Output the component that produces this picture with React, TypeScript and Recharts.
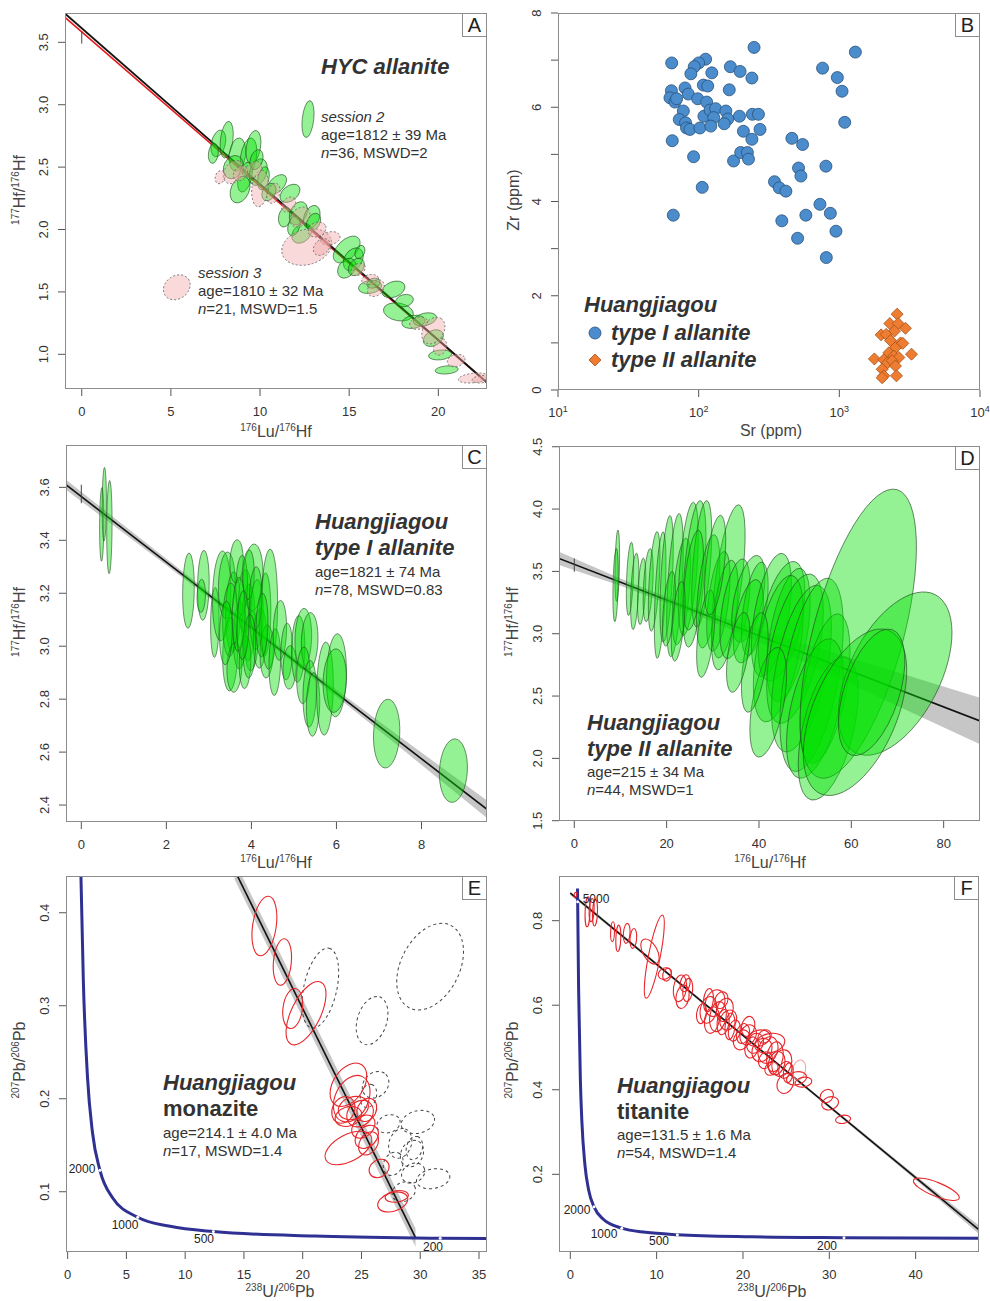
import React from 'react';
import { Area, ComposedChart, Line, Scatter, XAxis, YAxis } from 'recharts';

// ellipse rows: [x, y, half-width x, half-height y, correlation]
type Ell = [number, number, number, number, number];
type Pt = [number, number];
type Band = [number, number, number];

// ---------- panel A: HYC allanite ----------
const session2: Ell[] = [
  [7.66, 2.69, 0.42, 0.107, 0.3], [8.13, 2.72, 0.37, 0.147, 0.3], [8.73, 2.6, 0.47, 0.134, 0.2],
  [9.35, 2.58, 0.47, 0.154, 0.3], [9.63, 2.66, 0.42, 0.134, 0.3], [8.5, 2.5, 0.56, 0.093, 0.2],
  [9.16, 2.42, 0.42, 0.12, 0.4], [9.9, 2.46, 0.51, 0.107, 0.3], [8.88, 2.32, 0.56, 0.107, 0.3],
  [10.93, 2.36, 0.56, 0.08, 0.5], [11.68, 2.29, 0.56, 0.073, 0.4], [11.4, 2.1, 0.37, 0.08, 0.2],
  [12.15, 2.13, 0.51, 0.093, 0.3], [12.9, 2.1, 0.47, 0.093, 0.3], [12.34, 1.97, 0.56, 0.08, 0.3],
  [14.86, 1.84, 0.75, 0.107, 0.5], [15.23, 1.76, 0.56, 0.093, 0.3], [14.86, 1.69, 0.51, 0.08, 0.3],
  [16.17, 1.54, 0.65, 0.053, 0.2], [17.48, 1.52, 0.65, 0.067, 0.3], [17.76, 1.34, 0.84, 0.073, -0.2],
  [18.6, 1.26, 0.65, 0.053, 0.2], [19.25, 1.28, 0.65, 0.053, 0.3], [19.72, 1.13, 0.56, 0.067, 0.3],
  [20.1, 0.995, 0.65, 0.04, 0.2], [20.47, 0.875, 0.65, 0.033, 0.2], [9.8, 2.56, 0.37, 0.08, 0.3],
  [10.19, 2.41, 0.33, 0.093, 0.3], [7.38, 2.61, 0.28, 0.08, 0.2], [15.6, 1.82, 0.28, 0.053, 0.3],
  [16.36, 1.57, 0.37, 0.04, 0.2], [13.0, 2.06, 0.4, 0.07, 0.3], [15.4, 1.7, 0.45, 0.07, 0.3],
  [18.1, 1.43, 0.5, 0.05, 0.2], [10.5, 2.3, 0.4, 0.07, 0.3], [11.9, 2.03, 0.35, 0.08, 0.3],
];
const session3: Ell[] = [
  [12.62, 1.86, 1.4, 0.147, 0.2], [13.93, 1.93, 0.56, 0.053, 0.2], [13.46, 1.86, 0.47, 0.067, 0.3],
  [12.24, 2.1, 0.56, 0.08, 0.3], [10.0, 2.33, 0.47, 0.147, 0.2], [8.5, 2.46, 0.56, 0.093, 0.3],
  [7.76, 2.42, 0.28, 0.053, 0.2], [16.17, 1.6, 0.47, 0.04, 0.2], [16.5, 1.53, 0.47, 0.067, 0.3],
  [19.72, 1.19, 0.65, 0.107, 0.3], [20.1, 1.06, 0.37, 0.067, 0.2], [21.96, 0.81, 0.84, 0.04, 0.3],
  [22.4, 0.8, 0.5, 0.03, 0.2], [9.63, 2.48, 0.47, 0.067, 0.3], [10.75, 2.29, 0.37, 0.08, 0.3],
  [13.2, 2.0, 0.5, 0.06, 0.2], [11.6, 2.2, 0.4, 0.06, 0.3], [15.5, 1.68, 0.4, 0.05, 0.3],
  [18.9, 1.25, 0.5, 0.05, 0.2], [21.0, 0.95, 0.5, 0.05, 0.2], [8.9, 2.45, 0.4, 0.06, 0.3],
];
const keyS2: Ell[] = [[12.69, 2.885, 0.34, 0.148, 0.3]];
const keyS3: Ell[] = [[5.33, 1.537, 0.75, 0.1, 0.2]];
const isoA: Pt[] = [[-0.94, 3.73], [22.73, 0.774]];
const isoA3: Pt[] = [[-0.94, 3.7], [22.73, 0.772]];
const bandA: Band[] = [[-0.94, 3.716, 3.744], [11, 2.233, 2.245], [22.73, 0.762, 0.786]];
const barA: Pt[] = [[0, 3.49], [0, 3.585]];

// ---------- panel B: Sr vs Zr ----------
const typeI: Pt[] = [
  [64.3, 6.94], [247.6, 7.27], [1300, 7.17], [112, 7.02], [100, 6.94], [93, 6.86], [88, 6.71], [124, 6.73],
  [168, 6.86], [197, 6.76], [239, 6.62], [760, 6.83], [968, 6.63], [1045, 6.34], [1092, 5.68], [64, 6.35],
  [62.5, 6.2], [67.8, 6.11], [69.7, 6.18], [80, 6.41], [84.4, 6.28], [108, 6.47], [116, 6.45], [165, 6.37],
  [98.4, 6.18], [114, 6.11], [77.8, 5.92], [72.8, 5.74], [80.7, 5.67], [82, 5.56], [86.7, 5.53], [102, 5.56],
  [109, 5.81], [120.5, 5.94], [132, 5.97], [128, 5.78], [122, 5.6], [156, 5.92], [161, 5.75], [152, 5.65],
  [195, 5.81], [241, 5.85], [266, 5.85], [273, 5.53], [208, 5.49], [239, 5.32], [64.9, 5.29], [92, 4.95],
  [177, 4.86], [199, 5.04], [222, 5.04], [226, 4.9], [106, 4.3], [66, 3.71], [460, 5.34], [548, 5.21],
  [513, 4.71], [533, 4.54], [803, 4.75], [346, 4.42], [374, 4.29], [417, 4.22], [390, 3.59], [578, 3.71],
  [728, 3.94], [863, 3.75], [946, 3.37], [505, 3.22], [808, 2.81],
];
const typeII: Pt[] = [
  [2576, 1.61], [2285, 1.41], [2618, 1.41], [2951, 1.31], [2466, 1.25], [1982, 1.17], [2153, 1.18],
  [2309, 1.05], [2722, 1.0], [2506, 0.9], [3258, 0.76], [2250, 0.79], [2440, 0.72], [2649, 0.69],
  [1775, 0.66], [2070, 0.64], [2188, 0.57], [2373, 0.62], [2015, 0.44], [2506, 0.51], [2070, 0.3],
  [2015, 0.26], [2548, 0.3], [2828, 0.99],
];

// ---------- panel C: type I allanite ----------
const allaniteI: Ell[] = [
  [0.48, 3.46, 0.05, 0.139, 0.1], [0.54, 3.536, 0.05, 0.139, 0.1], [0.66, 3.45, 0.063, 0.176, 0.1],
  [2.52, 3.21, 0.137, 0.142, 0.1], [2.87, 3.23, 0.137, 0.132, 0.1], [2.82, 3.19, 0.1, 0.063, 0.1],
  [3.14, 3.09, 0.1, 0.132, 0.1], [3.3, 3.19, 0.216, 0.17, 0.1], [3.42, 3.23, 0.196, 0.126, 0.1],
  [3.57, 3.13, 0.176, 0.151, 0.1], [3.5, 2.97, 0.176, 0.139, 0.1], [3.65, 3.32, 0.157, 0.082, 0.1],
  [3.73, 3.04, 0.157, 0.126, 0.1], [3.85, 3.17, 0.157, 0.12, 0.1], [3.93, 3.09, 0.157, 0.145, 0.1],
  [4.04, 3.26, 0.235, 0.126, 0.1], [4.0, 3.02, 0.157, 0.113, 0.1], [4.12, 3.12, 0.157, 0.132, 0.1],
  [4.2, 3.03, 0.157, 0.113, 0.1], [4.32, 3.12, 0.137, 0.157, 0.1], [4.36, 2.98, 0.157, 0.1, 0.1],
  [4.42, 3.14, 0.196, 0.227, 0.1], [4.55, 2.94, 0.137, 0.126, 0.1], [4.67, 3.06, 0.157, 0.113, 0.1],
  [4.83, 2.98, 0.137, 0.107, 0.1], [4.9, 2.92, 0.157, 0.082, 0.1], [5.1, 2.99, 0.157, 0.126, 0.1],
  [5.22, 3.03, 0.196, 0.113, 0.1], [5.37, 3.02, 0.196, 0.107, 0.1], [5.22, 2.89, 0.157, 0.107, 0.1],
  [5.37, 2.82, 0.157, 0.126, 0.1], [5.45, 2.78, 0.157, 0.12, 0.1], [5.73, 2.84, 0.196, 0.176, 0.1],
  [6.0, 2.89, 0.235, 0.157, 0.1], [5.96, 2.87, 0.275, 0.12, 0.1], [7.18, 2.67, 0.31, 0.13, 0.1],
  [8.75, 2.53, 0.33, 0.12, 0.1], [3.77, 3.23, 0.137, 0.113, 0.1], [3.93, 3.27, 0.137, 0.094, 0.1],
  [3.5, 3.1, 0.176, 0.139, 0.1], [3.6, 2.92, 0.176, 0.094, 0.1], [3.85, 2.94, 0.137, 0.1, 0.1],
  [3.7, 3.12, 0.15, 0.14, 0.1], [4.1, 3.18, 0.15, 0.12, 0.1], [3.95, 3.0, 0.15, 0.12, 0.1],
  [4.25, 3.08, 0.14, 0.12, 0.1], [3.4, 3.05, 0.15, 0.12, 0.1], [3.8, 3.08, 0.14, 0.13, 0.1],
];
const isoC: Pt[] = [[-0.37, 3.611], [9.54, 2.384]];
const bandC: Band[] = [
  [-0.37, 3.592, 3.63], [2, 3.306, 3.33], [4, 3.06, 3.08], [6, 2.81, 2.836], [7.5, 2.617, 2.657], [9.54, 2.351, 2.417],
];
const barC: Pt[] = [[0, 3.54], [0, 3.61]];

// ---------- panel D: type II allanite ----------
const allaniteII: Ell[] = [
  [9.31, 3.545, 0.5, 0.287, 0.3], [8.95, 3.39, 0.58, 0.294, 0.3], [12.06, 3.44, 0.79, 0.294, 0.4],
  [13.1, 3.34, 0.9, 0.307, 0.4], [14.6, 3.34, 0.9, 0.267, 0.4], [16.0, 3.39, 1.08, 0.294, 0.4],
  [17.3, 3.42, 1.26, 0.4, 0.5], [18.6, 3.31, 1.26, 0.508, 0.5], [20.0, 3.44, 1.44, 0.508, 0.5],
  [21.8, 3.39, 1.8, 0.575, 0.5], [23.2, 3.34, 1.99, 0.428, 0.5], [24.7, 3.52, 2.17, 0.535, 0.5],
  [26.0, 3.48, 2.53, 0.588, 0.5], [27.6, 3.56, 2.17, 0.508, 0.5], [25.8, 3.43, 2.17, 0.4, 0.5],
  [29.0, 3.34, 2.53, 0.455, 0.5], [33.4, 3.42, 3.6, 0.615, 0.6], [31.2, 3.26, 2.53, 0.4, 0.5],
  [32.6, 3.15, 2.89, 0.44, 0.5], [34.8, 3.2, 3.25, 0.4, 0.5], [37.7, 3.28, 3.6, 0.348, 0.5],
  [39.1, 3.2, 2.89, 0.374, 0.5], [37.7, 3.1, 3.25, 0.334, 0.5], [42.7, 3.15, 4.33, 0.495, 0.5],
  [44.9, 3.1, 5.05, 0.48, 0.5], [46.4, 2.99, 4.69, 0.535, 0.5], [44.2, 2.88, 5.42, 0.588, 0.5],
  [47.8, 2.88, 6.14, 0.6, 0.5], [49.2, 2.72, 6.5, 0.668, 0.5], [51.4, 2.67, 6.86, 0.775, 0.5],
  [54.3, 2.56, 5.42, 0.6, 0.5], [52.1, 2.4, 6.14, 0.56, 0.5], [55.0, 2.24, 6.5, 0.575, 0.5],
  [61.5, 3.0, 12.6, 1.16, 0.6], [69.5, 2.68, 12.3, 0.655, 0.5], [60.8, 2.37, 11.2, 0.668, 0.5],
  [64.4, 2.53, 7.2, 0.508, 0.5], [42.0, 2.45, 3.97, 0.44, 0.5], [39.1, 2.77, 2.89, 0.4, 0.5],
  [35.5, 2.85, 2.53, 0.32, 0.5], [20.5, 3.2, 1.4, 0.3, 0.5], [22.5, 3.1, 1.5, 0.32, 0.5],
  [28.5, 3.0, 2.0, 0.35, 0.5], [30.5, 3.55, 2.3, 0.4, 0.5],
];
const isoD: Pt[] = [[-3.32, 3.604], [87.87, 2.3]];
const bandD: Band[] = [
  [-3.32, 3.551, 3.657], [10, 3.384, 3.444], [25, 3.177, 3.221], [45, 2.853, 2.973], [65, 2.507, 2.747], [87.87, 2.113, 2.487],
];
const barD: Pt[] = [[0, 3.497], [0, 3.604]];

// ---------- panel E: monazite ----------
const monazite: Ell[] = [
  [16.74, 0.3857, 1.06, 0.032, 0.3], [18.27, 0.347, 0.78, 0.025, 0.2], [19.15, 0.297, 0.85, 0.0215, 0.2],
  [20.28, 0.292, 1.7, 0.034, 0.6], [23.89, 0.215, 1.56, 0.0233, 0.4], [24.17, 0.2, 1.56, 0.025, 0.3],
  [23.46, 0.188, 0.99, 0.0143, 0.2], [24.31, 0.19, 1.28, 0.0125, 0.2], [24.88, 0.184, 1.13, 0.0143, 0.2],
  [25.45, 0.188, 0.85, 0.0125, 0.2], [23.89, 0.181, 1.13, 0.0108, 0.2], [25.16, 0.17, 0.99, 0.0125, 0.3],
  [23.89, 0.147, 1.99, 0.018, 0.5], [25.45, 0.159, 0.99, 0.0125, 0.3], [25.6, 0.152, 0.85, 0.0125, 0.3],
  [26.5, 0.125, 0.85, 0.0099, 0.2], [27.66, 0.089, 1.28, 0.0108, 0.3], [28.0, 0.095, 0.99, 0.0063, 0.2],
];
const monaziteOut: Ell[] = [
  [30.84, 0.342, 2.84, 0.0466, 0.35], [21.5, 0.319, 1.56, 0.043, 0.4], [25.9, 0.284, 1.35, 0.026, 0.3],
  [26.2, 0.215, 1.13, 0.0143, 0.2], [29.8, 0.175, 1.42, 0.0125, 0.2], [27.3, 0.173, 0.99, 0.0099, 0.2],
  [28.3, 0.152, 0.99, 0.016, 0.2], [29.3, 0.141, 0.99, 0.0143, 0.2], [27.7, 0.13, 0.85, 0.0125, 0.2],
  [31.1, 0.114, 1.42, 0.0108, 0.2], [29.4, 0.12, 0.99, 0.0108, 0.2], [28.6, 0.1, 0.99, 0.0108, 0.2],
  [25.6, 0.203, 0.7, 0.0125, 0.2], [29.5, 0.147, 0.7, 0.0125, 0.2],
];
const isoE: Pt[] = [[14.2, 0.4459], [29.6, 0.0506]];
const bandE: Band[] = [[14.2, 0.4361, 0.4557], [22, 0.2359, 0.2555], [29.6, 0.0408, 0.0604]];
const concordiaE: Pt[] = [
  [1.13, 0.44], [1.337, 0.326], [1.69, 0.223], [2.11, 0.164], [2.75, 0.123], [3.82, 0.0936],
  [5.96, 0.0725], [8.72, 0.0628], [12.4, 0.0572], [21.0, 0.0523], [31.7, 0.0501], [35.7, 0.0496],
];
const agesE: Pt[] = [[2.75, 0.123], [5.96, 0.0725], [12.4, 0.0572], [31.7, 0.0501]];

// ---------- panel F: titanite ----------
const titanite: Ell[] = [
  [0.6, 0.861, 0.15, 0.006, 0.2], [2.0, 0.821, 0.29, 0.0355, 0.2], [2.47, 0.825, 0.29, 0.0276, 0.2],
  [2.86, 0.819, 0.29, 0.0315, 0.2], [4.9, 0.774, 0.23, 0.0236, 0.2], [5.56, 0.758, 0.29, 0.0315, 0.2],
  [6.53, 0.77, 0.39, 0.0236, 0.2], [7.3, 0.758, 0.39, 0.0236, 0.2], [9.23, 0.727, 1.06, 0.0296, -0.5],
  [9.73, 0.715, 1.16, 0.0985, 0.8], [10.96, 0.675, 0.77, 0.0138, 0.2], [12.7, 0.64, 0.77, 0.0315, 0.2],
  [13.6, 0.636, 0.58, 0.0276, 0.2], [13.0, 0.62, 0.77, 0.0276, 0.2], [13.3, 0.652, 0.58, 0.02, 0.2],
  [16.0, 0.589, 0.97, 0.0315, 0.2], [16.76, 0.605, 1.16, 0.0315, 0.2], [17.1, 0.573, 0.97, 0.0355, 0.2],
  [17.9, 0.589, 0.97, 0.0276, 0.2], [18.3, 0.565, 0.97, 0.0236, 0.2], [16.4, 0.565, 0.87, 0.0315, 0.2],
  [17.5, 0.612, 0.77, 0.0197, 0.2], [18.5, 0.55, 0.58, 0.0315, 0.2], [19.85, 0.518, 0.97, 0.0236, 0.2],
  [20.0, 0.533, 0.77, 0.0236, 0.2], [20.6, 0.53, 0.97, 0.0236, 0.2], [21.4, 0.51, 0.97, 0.0236, 0.2],
  [21.8, 0.522, 1.35, 0.0197, 0.2], [22.2, 0.494, 1.16, 0.0276, 0.2], [22.9, 0.494, 1.16, 0.0315, 0.2],
  [23.1, 0.51, 1.74, 0.0236, 0.2], [23.7, 0.478, 0.97, 0.0355, 0.2], [22.5, 0.526, 0.77, 0.0158, 0.2],
  [23.9, 0.463, 0.97, 0.0276, 0.2], [24.5, 0.463, 1.16, 0.0315, 0.2], [23.3, 0.45, 0.77, 0.0158, 0.2],
  [24.9, 0.447, 0.77, 0.0197, 0.2], [25.25, 0.44, 0.58, 0.0236, 0.2], [24.9, 0.415, 0.97, 0.0236, 0.2],
  [26.2, 0.427, 1.16, 0.0158, 0.2], [27.0, 0.418, 0.97, 0.0118, 0.2], [29.7, 0.385, 0.77, 0.0158, 0.2],
  [30.1, 0.368, 0.97, 0.0158, 0.2], [31.6, 0.33, 0.87, 0.0099, 0.2], [42.4, 0.1646, 2.66, 0.0264, -0.75],
  [20.6, 0.55, 0.77, 0.0236, 0.2], [15.2, 0.58, 0.58, 0.0236, 0.2], [16.0, 0.612, 0.58, 0.0276, 0.2],
  [19.0, 0.54, 0.7, 0.025, 0.2], [21.0, 0.5, 0.8, 0.025, 0.2], [22.6, 0.47, 0.8, 0.02, 0.2],
  [17.7, 0.56, 0.7, 0.03, 0.2], [11.2, 0.672, 0.5, 0.015, 0.2],
];
const titanitePale: Ell[] = [[26.5, 0.447, 0.77, 0.0236, 0.2]];
const isoF: Pt[] = [[0, 0.865], [47.34, 0.0687]];
const bandF: Band[] = [[0, 0.861, 0.869], [25, 0.4415, 0.4475], [40, 0.1872, 0.1972], [47.34, 0.0587, 0.0787]];
const concordiaF: Pt[] = [
  [0.835, 0.876], [0.96, 0.64], [1.163, 0.425], [1.337, 0.326], [1.69, 0.223], [2.11, 0.164], [2.75, 0.123],
  [3.82, 0.0936], [5.96, 0.0725], [8.72, 0.0628], [12.4, 0.0572], [21.0, 0.0523], [31.7, 0.0501], [47.4, 0.0487],
];
const agesF: Pt[] = [[0.853, 0.845], [2.75, 0.123], [5.96, 0.0725], [12.4, 0.0572], [31.7, 0.0501]];

// ---------- axes ----------
const ticksAx = [0, 5, 10, 15, 20];
const ticksAy = [1, 1.5, 2, 2.5, 3, 3.5];
const ticksBx = [10, 100, 1000, 10000];
const ticksBy = [0, 1, 2, 3, 4, 5, 6, 7, 8];
const ticksCx = [0, 2, 4, 6, 8];
const ticksCy = [2.4, 2.6, 2.8, 3.0, 3.2, 3.4, 3.6];
const ticksDx = [0, 20, 40, 60, 80];
const ticksDy = [1.5, 2, 2.5, 3, 3.5, 4, 4.5];
const ticksEx = [0, 5, 10, 15, 20, 25, 30, 35];
const ticksEy = [0.1, 0.2, 0.3, 0.4];
const ticksFx = [0, 10, 20, 30, 40];
const ticksFy = [0.2, 0.4, 0.6, 0.8];

const FONT = '"Liberation Sans", Arial, Helvetica, sans-serif';
const INK = '#333';

const ell = (a: Ell[]) => a.map(([x, y, sx, sy, r]) => ({ x, y, sx, sy, r }));
const pts = (a: Pt[]) => a.map(([x, y]) => ({ x, y }));
const bandRows = (a: Band[]) => a.map(([x, lo, hi]) => ({ x, band: [lo, hi] }));

const GREEN = { fill: '#00e000', fillOpacity: 0.42, stroke: '#234d23', strokeOpacity: 0.75, strokeWidth: 0.8 };
const PINK = { fill: '#f0a4a4', fillOpacity: 0.42, stroke: '#6a6a6a', strokeWidth: 0.8, strokeDasharray: '2 2' };
const RED = { fill: 'none', stroke: '#e8262a', strokeWidth: 1.1 };
const PALE = { fill: 'none', stroke: '#f4a0a0', strokeWidth: 1 };
const DASH = { fill: 'none', stroke: '#444', strokeWidth: 1, strokeDasharray: '3 3' };

// error ellipse drawn in pixels from the data-unit half widths and correlation
const ellShape = (kx: number, ky: number, style: object) => (p: any) => {
  const d = p.payload;
  const a = d.sx * kx;
  const b = d.sy * ky;
  const c = -d.r * a * b;
  const m = (a * a + b * b) / 2;
  const q = Math.sqrt(((a * a - b * b) / 2) ** 2 + c * c);
  const ang = (0.5 * Math.atan2(2 * c, a * a - b * b) * 180) / Math.PI;
  return (
    <ellipse cx={p.cx} cy={p.cy} rx={Math.sqrt(m + q)} ry={Math.sqrt(Math.max(m - q, 0.2))}
      transform={`rotate(${ang} ${p.cx} ${p.cy})`} {...style} />
  );
};
const dotShape = (p: any) => <circle cx={p.cx} cy={p.cy} r={1.5} fill="#fff" />;
const circleShape = (p: any) => <circle cx={p.cx} cy={p.cy} r={6} fill="#4a8ccc" stroke="#27507a" strokeWidth={0.8} />;
const diamondShape = (p: any) => (
  <polygon points={`${p.cx},${p.cy - 6} ${p.cx + 6},${p.cy} ${p.cx},${p.cy + 6} ${p.cx - 6},${p.cy}`}
    fill="#ee7d31" stroke="#a4521b" strokeWidth={0.8} />
);

const XTick = (p: any) => (
  <text x={p.x} y={p.y} dy={12} textAnchor="middle" fontSize={13} fill={INK} fontFamily={FONT}>
    {p.fmt(p.payload.value)}
  </text>
);
const LogTick = (p: any) => (
  <text x={p.x} y={p.y} dy={12} textAnchor="middle" fontSize={13} fill={INK} fontFamily={FONT}>
    10<tspan dy={-5} fontSize={9}>{Math.round(Math.log10(p.payload.value))}</tspan>
  </text>
);
const YTick = (p: any) => (
  <text x={p.x} y={p.y} transform={`rotate(-90 ${p.x} ${p.y})`} textAnchor="middle" fontSize={13} fill={INK} fontFamily={FONT}>
    {p.fmt(p.payload.value)}
  </text>
);

const YW = 50, MT = 10, XH = 40, MR = 14;

type PanelProps = {
  box: [number, number, number, number];
  xd: [number, number];
  yd: [number, number];
  xt: number[];
  yt: number[];
  xfmt?: (v: number) => string;
  yfmt: (v: number) => string;
  log?: boolean;
  letter: string;
  render: (kx: number, ky: number) => React.ReactNode;
};

const Panel = ({ box, xd, yd, xt, yt, xfmt, yfmt, log, letter, render }: PanelProps) => {
  const [l, t, r, b] = box;
  const bw = r - l;
  const bh = b - t;
  const kx = bw / (xd[1] - xd[0]);
  const ky = bh / (yd[1] - yd[0]);
  return (
    <>
      <div style={{ position: 'absolute', left: l - YW, top: t - MT }}>
        <ComposedChart width={bw + YW + MR} height={bh + MT + XH} margin={{ top: MT, right: MR, bottom: 0, left: 0 }}>
          <XAxis type="number" dataKey="x" domain={xd} ticks={xt} interval={0} allowDataOverflow
            scale={log ? 'log' : 'auto'} axisLine={false} height={XH} tickSize={7} tickMargin={8}
            tickLine={{ stroke: '#555' }}
            tick={(p: any) => (log ? <LogTick {...p} /> : <XTick {...p} fmt={xfmt || String} />)} />
          <YAxis type="number" dataKey="y" domain={yd} ticks={yt} interval={0} allowDataOverflow
            axisLine={false} width={YW} tickSize={7} tickMargin={10} tickLine={{ stroke: '#555' }}
            tick={(p: any) => <YTick {...p} fmt={yfmt} />} />
          {render(kx, ky)}
        </ComposedChart>
      </div>
      <div style={{ position: 'absolute', left: l, top: t, width: bw, height: bh, border: '1px solid #8c8c8c', boxSizing: 'border-box', pointerEvents: 'none' }} />
      <div style={{ position: 'absolute', left: r - 25, top: t, width: 25, height: 24, border: '1px solid #8c8c8c', boxSizing: 'border-box', background: '#fff', fontFamily: FONT, fontSize: 20, lineHeight: '22px', textAlign: 'center', color: '#222' }}>
        {letter}
      </div>
    </>
  );
};

const Txt = ({ x, y, size = 15, bold = false, italic = false, children }: any) => (
  <div style={{ position: 'absolute', left: x, top: y - size * 0.6, fontSize: size, lineHeight: `${size * 1.2}px`, fontWeight: bold ? 700 : 400, fontStyle: italic ? 'italic' : 'normal', color: INK, whiteSpace: 'nowrap', fontFamily: FONT }}>
    {children}
  </div>
);
const Sup = ({ children }: any) => <span style={{ fontSize: 10, position: 'relative', top: -6 }}>{children}</span>;
const Title = ({ x, y, rot = false, children }: any) => (
  <div style={{ position: 'absolute', left: x, top: y, transform: `translate(-50%, -50%)${rot ? ' rotate(-90deg)' : ''}`, fontSize: 16, lineHeight: '18px', color: '#444', whiteSpace: 'nowrap', fontFamily: FONT }}>
    {children}
  </div>
);
const AgeLbl = ({ x, y, children }: any) => (
  <div style={{ position: 'absolute', left: x, top: y, transform: 'translate(-50%, -50%)', fontSize: 12, color: '#222', fontFamily: FONT }}>{children}</div>
);

const band = (rows: Band[], fill = '#c6c6c6') => (
  <Area key="band" data={bandRows(rows)} dataKey="band" type="linear" stroke="none" fill={fill} fillOpacity={1}
    isAnimationActive={false} dot={false} activeDot={false} legendType="none" />
);
const line = (key: string, rows: Pt[], stroke: string, w: number, type: any = 'linear') => (
  <Line key={key} data={pts(rows)} dataKey="y" type={type} stroke={stroke} strokeWidth={w}
    dot={false} activeDot={false} isAnimationActive={false} legendType="none" />
);
const scat = (key: string, data: any[], shape: any) => (
  <Scatter key={key} data={data} shape={shape} isAnimationActive={false} legendType="none" />
);

const f1 = (v: number) => v.toFixed(1);

const HfLu = () => (<><Sup>176</Sup>Lu/<Sup>176</Sup>Hf</>);
const HfHf = () => (<><Sup>177</Sup>Hf/<Sup>176</Sup>Hf</>);
const UPb = () => (<><Sup>238</Sup>U/<Sup>206</Sup>Pb</>);
const PbPb = () => (<><Sup>207</Sup>Pb/<Sup>206</Sup>Pb</>);

export default function App() {
  return (
    <div style={{ position: 'absolute', left: 0, top: 0, width: 990, height: 1301, background: '#fff', overflow: 'hidden' }}>
      <Panel box={[65, 13, 487, 389]} xd={[-0.94, 22.73]} yd={[0.722, 3.735]} xt={ticksAx} yt={ticksAy} yfmt={f1} letter="A"
        render={(kx, ky) => [
          band(bandA, '#dadada'),
          line('red', isoA3, '#e41a1c', 1.6),
          line('iso', isoA, '#111', 1.8),
          line('bar', barA, '#444', 1),
          scat('s2', ell(session2), ellShape(kx, ky, GREEN)),
          scat('s3', ell(session3), ellShape(kx, ky, PINK)),
          scat('k2', ell(keyS2), ellShape(kx, ky, GREEN)),
          scat('k3', ell(keyS3), ellShape(kx, ky, PINK)),
        ]} />
      <Panel box={[558, 13, 980, 390]} xd={[10, 10000]} yd={[0, 8]} xt={ticksBx} yt={ticksBy} log
        yfmt={(v) => (v % 2 === 0 ? String(v) : '')} letter="B"
        render={() => [
          scat('t1', pts(typeI), circleShape),
          scat('t2', pts(typeII), diamondShape),
        ]} />
      <Panel box={[66, 445, 487, 822]} xd={[-0.36, 9.54]} yd={[2.336, 3.76]} xt={ticksCx} yt={ticksCy} yfmt={f1} letter="C"
        render={(kx, ky) => [
          band(bandC),
          line('iso', isoC, '#111', 1.6),
          line('bar', barC, '#444', 1),
          scat('c', ell(allaniteI), ellShape(kx, ky, GREEN)),
        ]} />
      <Panel box={[559, 446, 980, 821]} xd={[-3.31, 87.87]} yd={[1.4976, 4.506]} xt={ticksDx} yt={ticksDy} yfmt={f1} letter="D"
        render={(kx, ky) => [
          band(bandD),
          line('iso', isoD, '#111', 1.6),
          line('bar', barD, '#444', 1),
          scat('d', ell(allaniteII), ellShape(kx, ky, GREEN)),
        ]} />
      <Panel box={[66, 876, 487, 1252]} xd={[-0.14, 35.68]} yd={[0.0352, 0.4395]} xt={ticksEx} yt={ticksEy} yfmt={String} letter="E"
        render={(kx, ky) => [
          band(bandE),
          line('iso', isoE, '#111', 1.6),
          line('conc', concordiaE, '#2e3192', 3, 'monotone'),
          scat('ages', pts(agesE), dotShape),
          scat('out', ell(monaziteOut), ellShape(kx, ky, DASH)),
          scat('in', ell(monazite), ellShape(kx, ky, RED)),
        ]} />
      <Panel box={[559, 876, 979, 1252]} xd={[-1.31, 47.34]} yd={[0.0162, 0.9057]} xt={ticksFx} yt={ticksFy} yfmt={f1} letter="F"
        render={(kx, ky) => [
          band(bandF),
          line('iso', isoF, '#111', 1.6),
          line('conc', concordiaF, '#2e3192', 3, 'monotone'),
          scat('ages', pts(agesF), dotShape),
          scat('pale', ell(titanitePale), ellShape(kx, ky, PALE)),
          scat('in', ell(titanite), ellShape(kx, ky, RED)),
        ]} />

      {/* axis titles */}
      <Title x={276} y={433}><HfLu /></Title>
      <Title x={21} y={190} rot><HfHf /></Title>
      <Title x={771} y={431}>Sr (ppm)</Title>
      <Title x={514} y={200} rot>Zr (ppm)</Title>
      <Title x={276} y={864}><HfLu /></Title>
      <Title x={21} y={622} rot><HfHf /></Title>
      <Title x={770} y={864}><HfLu /></Title>
      <Title x={514} y={622} rot><HfHf /></Title>
      <Title x={280} y={1293}><UPb /></Title>
      <Title x={21} y={1060} rot><PbPb /></Title>
      <Title x={772} y={1293}><UPb /></Title>
      <Title x={514} y={1060} rot><PbPb /></Title>

      {/* panel A notes */}
      <Txt x={321} y={67} size={22} bold italic>HYC allanite</Txt>
      <Txt x={321} y={117} italic>session 2</Txt>
      <Txt x={321} y={135}>age=1812 ± 39 Ma</Txt>
      <Txt x={321} y={153}><i>n</i>=36, MSWD=2</Txt>
      <Txt x={198} y={273} italic>session 3</Txt>
      <Txt x={198} y={291}>age=1810 ± 32 Ma</Txt>
      <Txt x={198} y={309}><i>n</i>=21, MSWD=1.5</Txt>

      {/* panel B legend */}
      <Txt x={584} y={305} size={22} bold italic>Huangjiagou</Txt>
      <svg style={{ position: 'absolute', left: 587, top: 325 }} width={16} height={44}>
        <circle cx={8} cy={8} r={6} fill="#4a8ccc" stroke="#27507a" strokeWidth={0.8} />
        <polygon points="8,29 14,35 8,41 2,35" fill="#ee7d31" stroke="#a4521b" strokeWidth={0.8} />
      </svg>
      <Txt x={611} y={333} size={22} bold italic>type I allanite</Txt>
      <Txt x={611} y={360} size={22} bold italic>type II allanite</Txt>

      {/* panel C notes */}
      <Txt x={315} y={522} size={22} bold italic>Huangjiagou</Txt>
      <Txt x={315} y={548} size={22} bold italic>type I allanite</Txt>
      <Txt x={315} y={572}>age=1821 ± 74 Ma</Txt>
      <Txt x={315} y={590}><i>n</i>=78, MSWD=0.83</Txt>

      {/* panel D notes */}
      <Txt x={587} y={723} size={22} bold italic>Huangjiagou</Txt>
      <Txt x={587} y={749} size={22} bold italic>type II allanite</Txt>
      <Txt x={587} y={772}>age=215 ± 34 Ma</Txt>
      <Txt x={587} y={790}><i>n</i>=44, MSWD=1</Txt>

      {/* panel E notes */}
      <Txt x={163} y={1083} size={22} bold italic>Huangjiagou</Txt>
      <Txt x={163} y={1109} size={22} bold>monazite</Txt>
      <Txt x={163} y={1133}>age=214.1 ± 4.0 Ma</Txt>
      <Txt x={163} y={1151}><i>n</i>=17, MSWD=1.4</Txt>
      <AgeLbl x={82} y={1169}>2000</AgeLbl>
      <AgeLbl x={125} y={1225}>1000</AgeLbl>
      <AgeLbl x={204} y={1239}>500</AgeLbl>
      <AgeLbl x={433} y={1247}>200</AgeLbl>

      {/* panel F notes */}
      <Txt x={617} y={1086} size={22} bold italic>Huangjiagou</Txt>
      <Txt x={617} y={1112} size={22} bold>titanite</Txt>
      <Txt x={617} y={1135}>age=131.5 ± 1.6 Ma</Txt>
      <Txt x={617} y={1153}><i>n</i>=54, MSWD=1.4</Txt>
      <AgeLbl x={596} y={899}>5000</AgeLbl>
      <AgeLbl x={577} y={1210}>2000</AgeLbl>
      <AgeLbl x={604} y={1234}>1000</AgeLbl>
      <AgeLbl x={659} y={1241}>500</AgeLbl>
      <AgeLbl x={827} y={1246}>200</AgeLbl>
    </div>
  );
}
